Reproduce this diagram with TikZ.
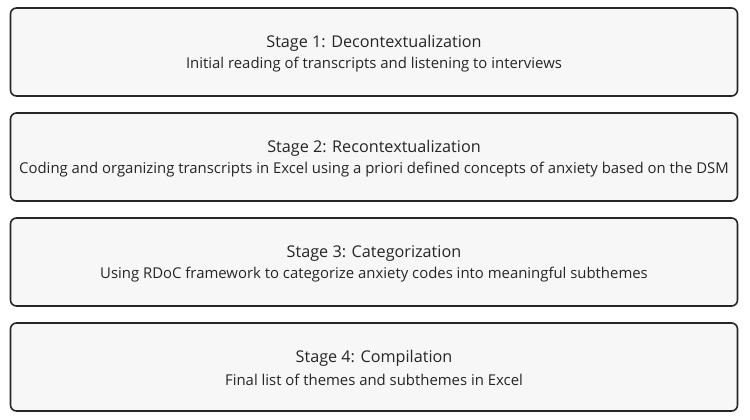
\documentclass[tikz,border=0pt]{standalone}
\usepackage{fontspec}
\setmainfont{Open Sans}
\begin{document}
\begin{tikzpicture}[x=1pt,y=-1pt,
  box/.style={draw=black!85,line width=1.6pt,rounded corners=6pt,fill=black!3,minimum width=727pt,minimum height=88pt,inner sep=0pt},
  ttl/.style={font=\fontsize{16.2}{19}\selectfont,text=black!85},
  sub/.style={font=\fontsize{14.9}{17}\selectfont,text=black!85}]
\useasboundingbox (0,0) rectangle (750,420);
\foreach \i/\y/\t/\s in {1/52/{Stage 1: Decontextualization}/{Initial reading of transcripts and listening to interviews},
 2/157/{Stage 2: Recontextualization}/{Coding and organizing transcripts in Excel using a priori defined concepts of anxiety based on the DSM},
 3/262/{Stage 3: Categorization}/{Using RDoC framework to categorize anxiety codes into meaningful subthemes},
 4/367/{Stage 4: Compilation}/{Final list of themes and subthemes in Excel}}{
 \node[box] (b\i) at (374,\y) {};
 \node[ttl] (t\i) at (374,\y-9) {\t};
 \node[sub] (s\i) at (374,\y+13) {\s};
}
\end{tikzpicture}
\end{document}
